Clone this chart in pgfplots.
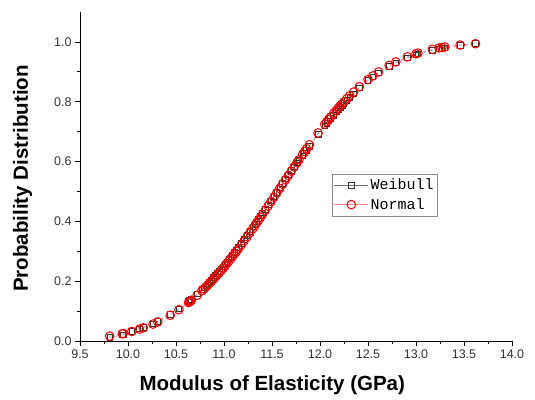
\documentclass[border=0pt]{standalone}
\usepackage{pgfplots}
\usepackage{pgfplotstable}
\usepackage{fontspec}
\pgfplotsset{compat=1.18}
\setmainfont{Liberation Sans}
\newfontfamily\legfont{Liberation Mono}

% modulus, weibull cdf, normal cdf
\pgfplotstableread{
x      wb     nm
9.81   0.012  0.0164
9.94   0.020  0.0241
9.95   0.021  0.0248
10.04  0.032  0.0319
10.12  0.040  0.0396
10.16  0.045  0.0439
10.26  0.058  0.0565
10.31  0.066  0.0637
10.44  0.089  0.0860
10.53  0.107  0.1046
10.63  0.132  0.1284
10.64  0.135  0.1310
10.65  0.138  0.1336
10.66  0.140  0.1362
10.72  0.157  0.1528
10.77  0.172  0.1677
10.79  0.178  0.1739
10.81  0.185  0.1802
10.83  0.191  0.1867
10.85  0.198  0.1933
10.87  0.205  0.2001
10.89  0.212  0.2070
10.91  0.219  0.2140
10.93  0.226  0.2212
10.95  0.233  0.2284
10.97  0.241  0.2358
10.99  0.248  0.2434
11.01  0.256  0.2511
11.03  0.264  0.2590
11.05  0.272  0.2670
11.07  0.280  0.2751
11.09  0.288  0.2833
11.11  0.297  0.2916
11.13  0.305  0.3000
11.15  0.314  0.3085
11.18  0.327  0.3216
11.21  0.340  0.3347
11.24  0.353  0.3482
11.27  0.367  0.3617
11.30  0.381  0.3756
11.32  0.390  0.3849
11.34  0.399  0.3942
11.36  0.409  0.4036
11.38  0.418  0.4130
11.40  0.428  0.4227
11.43  0.440  0.4369
11.46  0.455  0.4515
11.49  0.469  0.4661
11.52  0.484  0.4805
11.55  0.498  0.4952
11.58  0.513  0.5097
11.61  0.527  0.5243
11.64  0.542  0.5390
11.67  0.556  0.5533
11.70  0.571  0.5678
11.73  0.582  0.5821
11.76  0.596  0.5964
11.78  0.606  0.6058
11.82  0.619  0.6244
11.84  0.629  0.6336
11.86  0.638  0.6428
11.89  0.651  0.6562
11.98  0.691  0.6957
12.05  0.720  0.7249
12.07  0.728  0.7330
12.09  0.736  0.7410
12.11  0.744  0.7489
12.14  0.755  0.7603
12.17  0.767  0.7716
12.19  0.774  0.7788
12.21  0.781  0.7860
12.23  0.788  0.7930
12.25  0.795  0.7999
12.28  0.805  0.8100
12.31  0.815  0.8198
12.35  0.827  0.8323
12.41  0.847  0.8501
12.50  0.871  0.8741
12.55  0.883  0.8863
12.61  0.897  0.8997
12.72  0.918  0.9214
12.79  0.930  0.9332
12.91  0.947  0.9501
13.00  0.957  0.9604
13.02  0.960  0.9625
13.17  0.972  0.9752
13.24  0.977  0.9798
13.27  0.979  0.9815
13.30  0.980  0.9831
13.46  0.989  0.9897
13.62  0.995  0.9940
}\modtable

\begin{document}
\begin{tikzpicture}
\begin{axis}[
  name=ax,
  scale only axis,
  width=432bp,
  height=329bp,
  xmin=9.5, xmax=14,
  ymin=0, ymax=1.1,
  axis x line*=bottom,
  axis y line*=left,
  axis line style={-, black, line width=0.9pt},
  xtick={9.5,10,10.5,11,11.5,12,12.5,13,13.5,14},
  ytick={0,0.2,0.4,0.6,0.8,1.0},
  minor x tick num=1,
  minor y tick num=1,
  tick align=outside,
  major tick length=5bp,
  minor tick length=3bp,
  tick style={black, line width=0.8pt},
  /pgf/number format/assume math mode=true,
  xticklabel style={/pgf/number format/.cd, fixed, fixed zerofill, precision=1},
  yticklabel style={/pgf/number format/.cd, fixed, fixed zerofill, precision=1},
  ticklabel style={font=\fontsize{12.5bp}{14bp}\selectfont, text=black!80},
  xlabel={Modulus of Elasticity (GPa)},
  ylabel={Probability Distribution},
  label style={font=\fontsize{20.5bp}{24bp}\selectfont\bfseries},
  xlabel style={at={(axis description cs:0.445,-0.134)}, anchor=center},
  ylabel style={at={(axis description cs:-0.133,0.494)}, anchor=center},
  legend style={at={(0.583,0.508)}, anchor=north west, draw=black!45,
    font=\fontsize{15bp}{17bp}\selectfont\legfont, inner xsep=2bp, inner ysep=3bp,
    row sep=3bp, cells={anchor=west}},
  legend image code/.code={
    \draw[mark repeat=2, mark phase=2, solid]
      plot coordinates {(0bp,0bp) (17bp,0bp) (34bp,0bp)};},
]
\addplot[color=black!55, line width=0.5pt, dashed,
  mark=square, mark size=2.8bp,
  mark options={solid, draw=black!80, fill=white, line width=0.7pt}]
  table[x=x, y=wb] {\modtable};
\addplot[color=red!45, line width=0.5pt, dashed,
  mark=o, mark size=4.3bp,
  mark options={solid, draw=red, fill=white, line width=1.0pt}]
  table[x=x, y=nm] {\modtable};
\legend{Weibull, Normal}
\end{axis}
\pgfresetboundingbox
\path[use as bounding box] ([xshift=-80bp, yshift=-59bp]ax.south west)
  rectangle ([xshift=455bp, yshift=341bp]ax.south west);
\end{tikzpicture}
\end{document}
